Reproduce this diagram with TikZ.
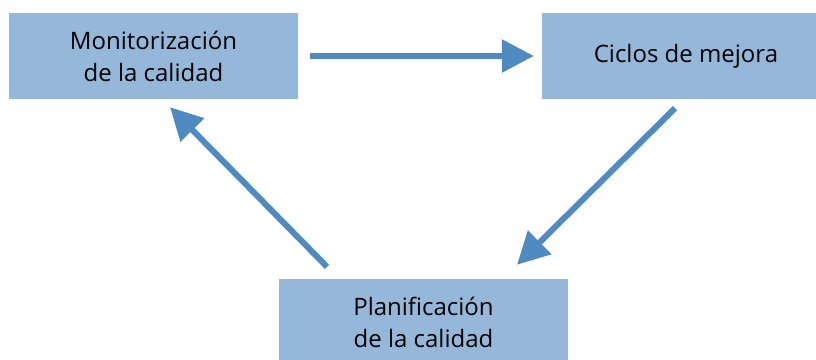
\documentclass[tikz,border=0pt]{standalone}
\usepackage{fontspec}
\setmainfont{Open Sans}
\usetikzlibrary{arrows.meta}
\definecolor{cajaazul}{HTML}{95B8DA}
\definecolor{flechaazul}{HTML}{4F8AC0}

\begin{document}
\begin{tikzpicture}[x=1pt,y=-1pt,
  caja/.style={fill=cajaazul, minimum height=86pt, align=center, inner sep=0pt,
    font=\fontsize{24}{32}\selectfont},
  flecha/.style={draw=flechaazul, line width=6pt, -{Triangle[length=32pt,width=32pt]}}]
\useasboundingbox (0,0) rectangle (816,359);
\node[caja, minimum width=289pt] (M) at (153.5,56) {Monitorización\\de la calidad};
\node[caja, minimum width=274pt] (C) at (679,56) {\hspace*{14pt}Ciclos de mejora};
\node[caja, minimum width=289pt] (P) at (423.5,322) {Planificación\\de la calidad};

\path[]
([xshift=12pt]M.east) edge[flecha] ([xshift=-8pt]C.west)
([xshift=-4pt,yshift=-9pt]C.south) edge[flecha] ([xshift=93.5pt,yshift=14pt]P.north)
([xshift=-96.5pt,yshift=12pt]P.north) edge[flecha] ([xshift=16.5pt,yshift=-8pt]M.south)
;
\end{tikzpicture}
\end{document}
